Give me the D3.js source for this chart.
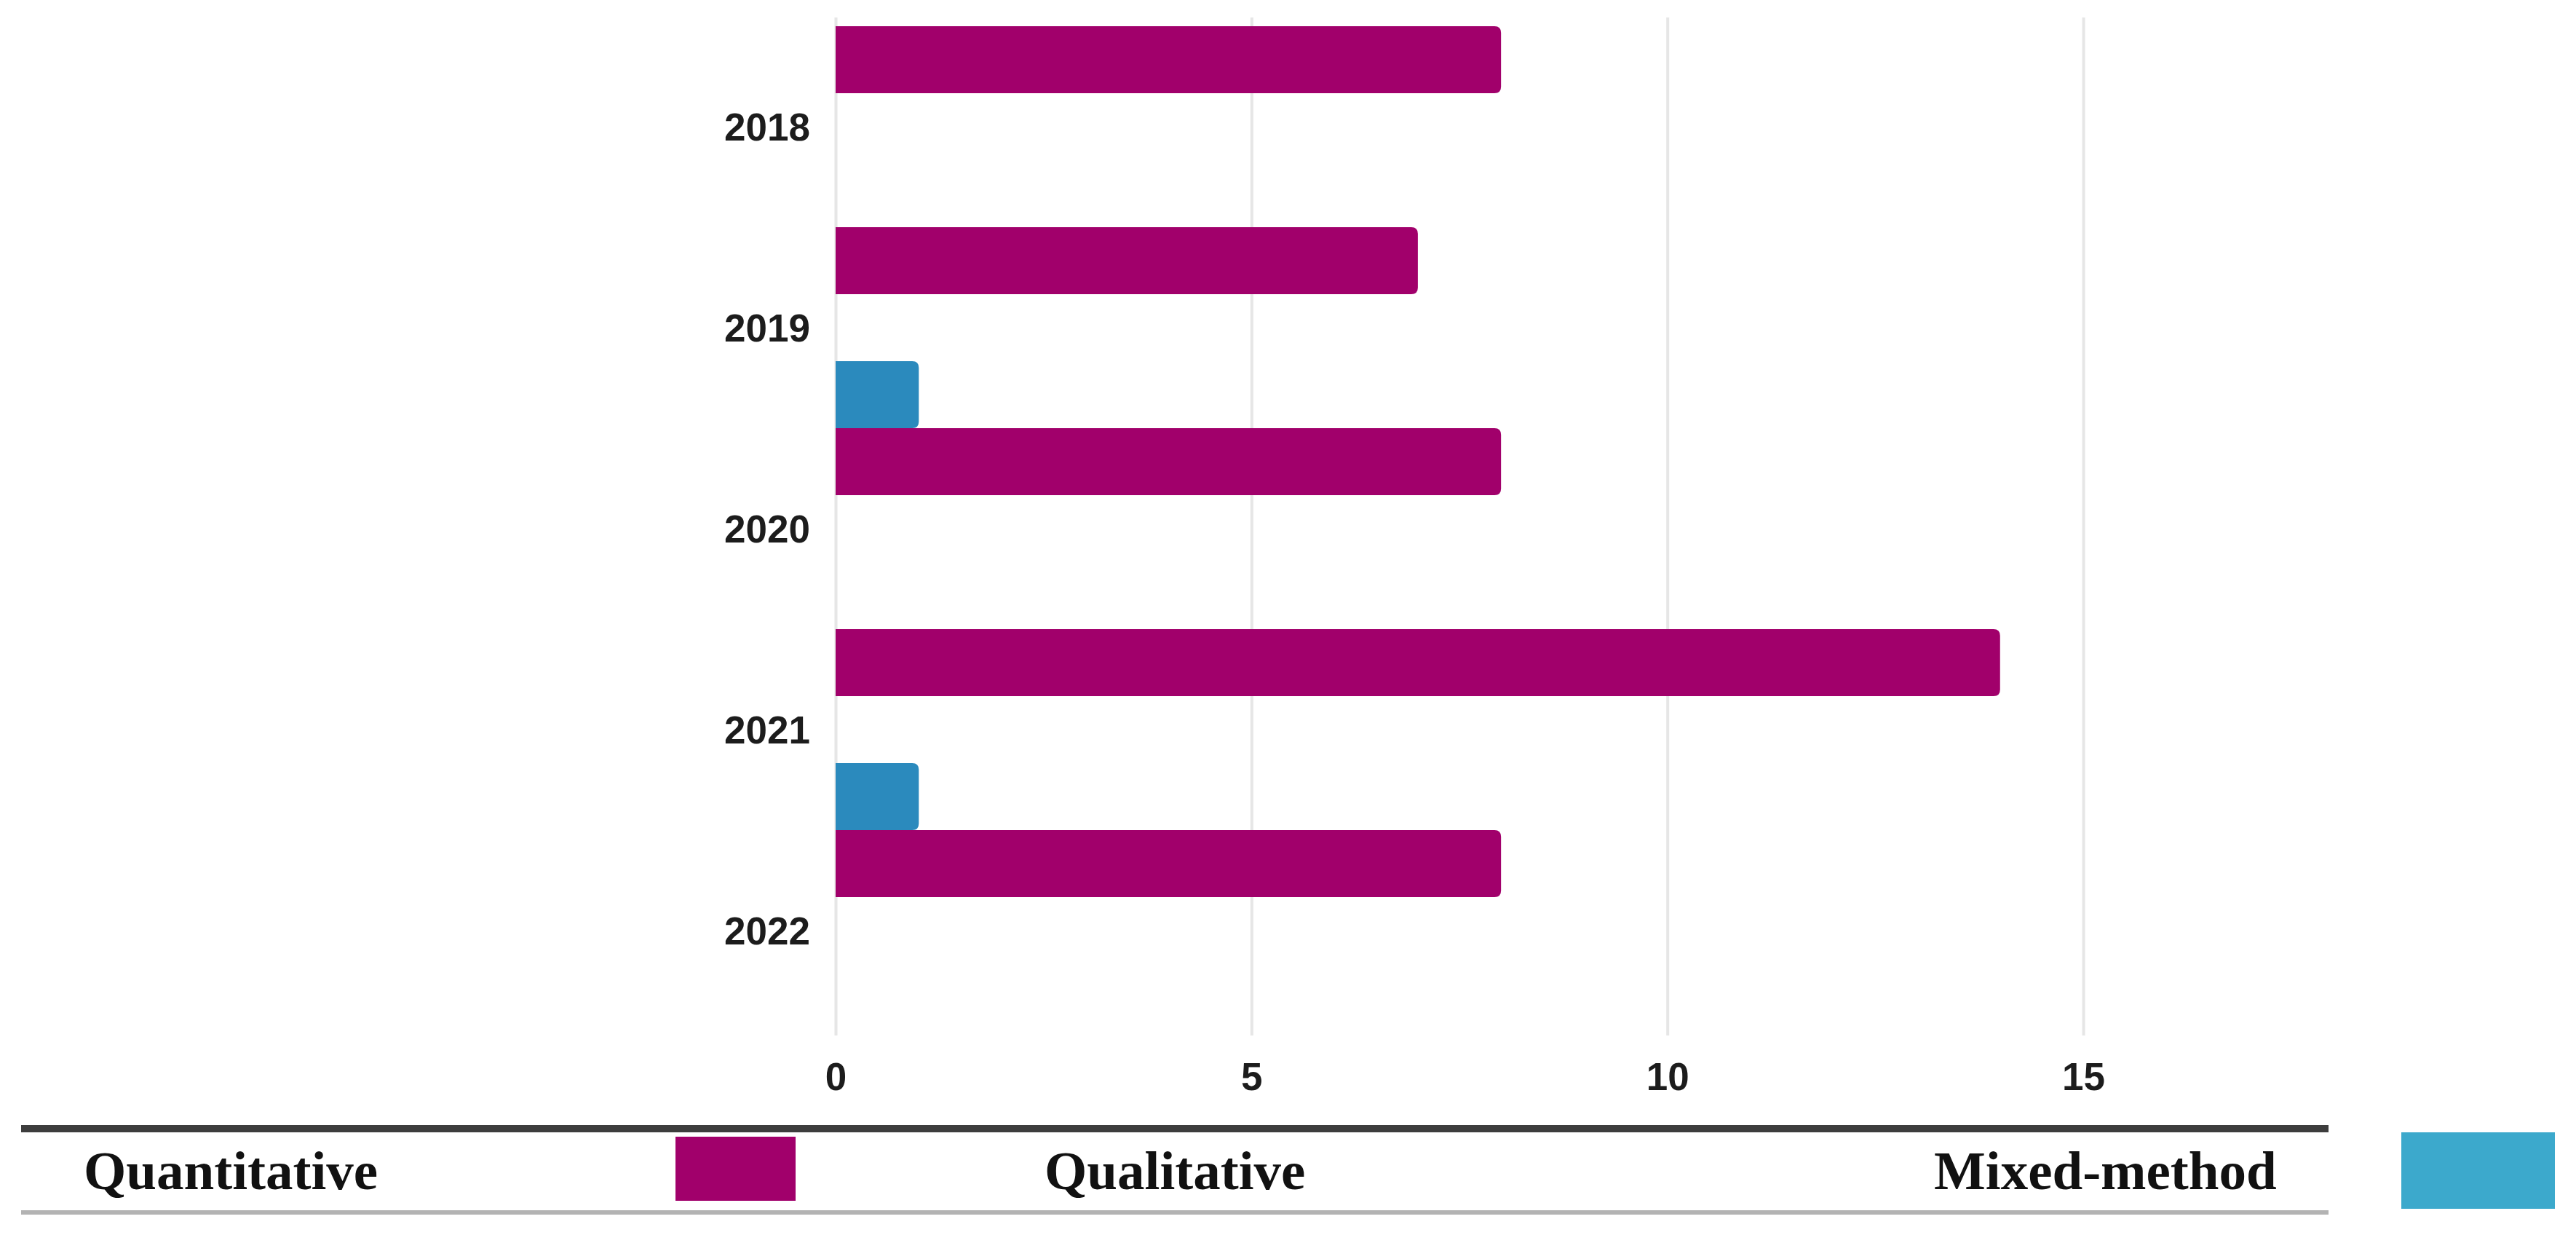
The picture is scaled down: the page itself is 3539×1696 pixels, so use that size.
<!DOCTYPE html>
<html>
<head>
<meta charset="utf-8">
<style>
  html, body { margin: 0; padding: 0; background: #fff; }
  svg { display: block; }
</style>
<script src="https://cdn.jsdelivr.net/npm/d3@7"></script>
</head>
<body>
<svg width="3539" height="1696"></svg>
<script>
'use strict';

// Data.
const years = ['2018', '2019', '2020', '2021', '2022'];
const seriesNames = ['Quantitative', 'Qualitative', 'Mixed-method'];
const quantitative = [8, 7, 8, 14, 8];
const qualitative = [0, 0, 0, 0, 0];
const mixedMethod = [0, 1, 0, 1, 0];
const xTicks = [0, 5, 10, 15];

class Chart {
  w = 3539;
  h = 1696;
  plot = { left: 1148, top: 36, bottom: 1416, gridTop: 24, gridBottom: 1422 };
  unit = 114.27;
  barColors = { 'Quantitative': '#a1006b', 'Qualitative': '#a1006b', 'Mixed-method': '#2b8abd' };
  axisFont = '"Liberation Sans", Arial, sans-serif';
  legendFont = '"Liberation Serif", "Times New Roman", serif';

  constructor() {
    this.svg = d3.select('svg');

    this.x = d3.scaleLinear()
      .domain([0, 15])
      .range([this.plot.left, this.plot.left + 15 * this.unit]);

    this.y = d3.scaleBand()
      .domain(years)
      .range([this.plot.top, this.plot.bottom])
      .padding(0);

    this.inner = d3.scaleBand()
      .domain(seriesNames)
      .range([0, this.y.bandwidth()])
      .padding(0);

    this.drawGrid();
    this.drawBars();
    this.drawAxes();
    this.drawLegend();
  }


  /*
   * Vertical light gridlines at every tick.
   */
  drawGrid() {
    const self = this;
    const g = self.svg.append('g')
      .attr('class', 'grid')
      .attr('transform', `translate(0, ${self.plot.gridBottom})`)
      .call(d3.axisBottom(self.x)
        .tickValues(xTicks)
        .tickSize(-(self.plot.gridBottom - self.plot.gridTop))
        .tickFormat(''));

    g.select('.domain').remove();
    g.selectAll('line')
      .attr('stroke', '#e6e6e6')
      .attr('stroke-width', 4);
  }


  /*
   * Bars with a rounded right end.
   */
  barPath(x0, x1, y0, h) {
    const w = x1 - x0;
    const r = Math.min(9, w / 2, h / 2);
    return `M${x0},${y0}H${x1 - r}Q${x1},${y0} ${x1},${y0 + r}` +
      `V${y0 + h - r}Q${x1},${y0 + h} ${x1 - r},${y0 + h}H${x0}Z`;
  }

  drawBars() {
    const self = this;
    const values = {
      'Quantitative': quantitative,
      'Qualitative': qualitative,
      'Mixed-method': mixedMethod,
    };

    const rows = [];
    years.forEach((year, i) => {
      seriesNames.forEach(name => {
        rows.push({ year: year, series: name, value: values[name][i] });
      });
    });

    self.svg.append('g')
      .attr('class', 'bars')
      .selectAll('path')
      .data(rows.filter(d => d.value > 0))
      .enter()
      .append('path')
      .attr('fill', d => self.barColors[d.series])
      .attr('d', d => self.barPath(
        self.x(0),
        self.x(d.value),
        self.y(d.year) + self.inner(d.series),
        self.inner.bandwidth()
      ));
  }


  /*
   * Year labels on the left, value labels below.
   */
  drawAxes() {
    const self = this;

    const yAxis = self.svg.append('g')
      .attr('class', 'y-axis')
      .attr('transform', `translate(${self.plot.left}, 0)`)
      .call(d3.axisLeft(self.y).tickSize(0).tickPadding(35));

    yAxis.select('.domain').remove();
    yAxis.selectAll('text')
      .attr('font-family', self.axisFont)
      .attr('font-weight', 700)
      .attr('font-size', 53)
      .attr('fill', '#1c1c1c')
      .attr('dy', '0.36em');

    const xAxis = self.svg.append('g')
      .attr('class', 'x-axis')
      .attr('transform', `translate(0, ${self.plot.gridBottom})`)
      .call(d3.axisBottom(self.x).tickValues(xTicks).tickSize(0).tickPadding(0));

    xAxis.select('.domain').remove();
    xAxis.selectAll('text')
      .attr('font-family', self.axisFont)
      .attr('font-weight', 700)
      .attr('font-size', 53)
      .attr('fill', '#1c1c1c')
      .attr('y', 75)
      .attr('dy', 0);
  }


  /*
   * Table-like legend between two rules.
   */
  drawLegend() {
    const self = this;
    const g = self.svg.append('g').attr('class', 'legend');

    g.append('rect')
      .attr('x', 29).attr('y', 1545)
      .attr('width', 3170).attr('height', 10)
      .attr('fill', '#3d3d3d');

    g.append('rect')
      .attr('x', 29).attr('y', 1662)
      .attr('width', 3170).attr('height', 6)
      .attr('fill', '#b3b3b3');

    const labels = [
      { text: seriesNames[0], x: 115 },
      { text: seriesNames[1], x: 1435 },
      { text: seriesNames[2], x: 2657 },
    ];

    g.selectAll('text')
      .data(labels)
      .enter()
      .append('text')
      .attr('x', d => d.x)
      .attr('y', 1633)
      .attr('font-family', self.legendFont)
      .attr('font-weight', 700)
      .attr('font-size', 75)
      .attr('fill', '#111')
      .text(d => d.text);

    // Swatches as they sit in the source figure.
    g.append('rect')
      .attr('x', 928).attr('y', 1561)
      .attr('width', 165).attr('height', 88)
      .attr('fill', '#a1006b');

    g.append('rect')
      .attr('x', 3299).attr('y', 1555)
      .attr('width', 211).attr('height', 105)
      .attr('fill', '#3ca9cc');
  }
}

const chart = new Chart();
</script>
</body>
</html>
